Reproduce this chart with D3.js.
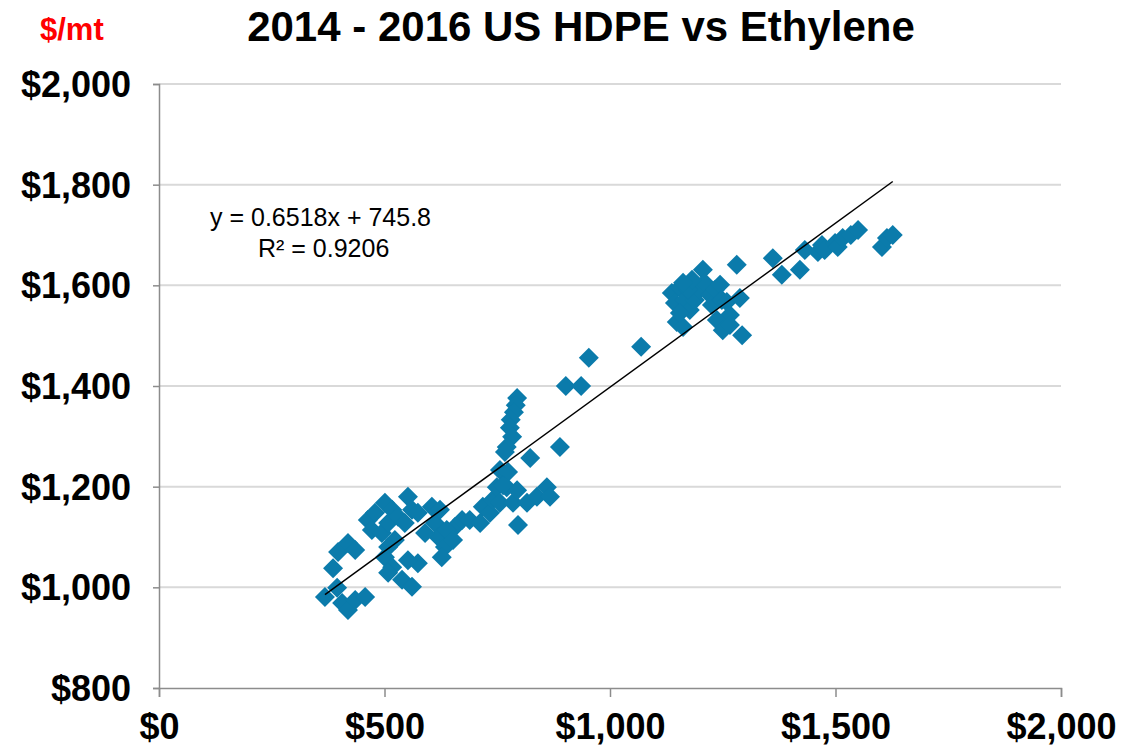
<!DOCTYPE html>
<html>
<head>
<meta charset="utf-8">
<script src="https://cdn.jsdelivr.net/npm/d3@7"></script>
<style>
  body { margin: 0; background: #fff; }
  svg { display: block; font-family: "Liberation Sans", Arial, sans-serif; }
</style>
</head>
<body>
<svg id="chart" width="1122" height="751"></svg>
<script>
// Ethylene price ($/mt) on x, HDPE price ($/mt) on y
const ethylene = [
  368, 395, 406, 419, 435, 457, 386, 397, 419, 435, 463, 479, 501, 517, 472, 494,
  508, 530, 552, 561, 574, 545, 523, 508, 501, 517, 508, 539, 561, 574, 552, 605,
  612, 619, 634, 627, 656, 672, 590,
  623, 638, 652, 689, 712, 718, 734, 740, 749, 756, 771, 785, 794, 796, 816, 838,
  860, 867, 823, 889, 902, 936, 953, 1069,
  794, 791, 787, 780, 778, 783, 771, 767, 756, 774, 763,
  1137, 1144, 1155, 1166, 1148, 1162, 1177, 1188, 1199, 1206, 1210, 1222, 1226, 1233,
  1244, 1248, 1259, 1266, 1237, 1250, 1281, 1288, 1293, 1266, 1173, 1182, 1155, 1162,
  1361, 1381, 1421, 1432, 1461, 1470, 1476, 1499, 1505, 1516, 1534, 1550, 1603, 1614, 1627
];
const hdpe = [
  981, 999, 969, 955, 975, 981, 1038, 1070, 1088, 1074, 1134, 1148, 1168, 1154, 1114, 1108,
  1128, 1140, 1180, 1154, 1148, 1128, 1094, 1080, 1060, 1040, 1029, 1015, 1001, 1048, 1054, 1160,
  1128, 1100, 1080, 1060, 1120, 1134, 1108,
  1154, 1114, 1094, 1134, 1128, 1160, 1148, 1174, 1199, 1168, 1199, 1168, 1193, 1124, 1168, 1180,
  1199, 1180, 1257, 1279, 1400, 1400, 1456, 1478,
  1376, 1362, 1348, 1333, 1317, 1299, 1279, 1269, 1233, 1229, 1203,
  1585, 1565, 1595, 1571, 1527, 1517, 1551, 1571, 1591, 1631, 1605, 1581, 1561, 1591,
  1601, 1571, 1567, 1541, 1531, 1511, 1641, 1575, 1501, 1521, 1591, 1611, 1545, 1605,
  1654, 1621, 1631, 1670, 1666, 1680, 1670, 1684, 1676, 1694, 1700, 1710, 1676, 1694, 1700
];
const xTicks = [0, 500, 1000, 1500, 2000];
const yTicks = [800, 1000, 1200, 1400, 1600, 1800, 2000];
const slope = 0.6518, intercept = 745.8, rSquared = 0.9206;

const points = ethylene.map((x, i) => ({x: x, y: hdpe[i]}));

const svg = d3.select('#chart');
const x = d3.scaleLinear().domain([0, 2000]).range([159, 1061]);
const y = d3.scaleLinear().domain([800, 2000]).range([688, 84]);
const money = d3.format('$,');

// gridlines
svg.append('g')
  .selectAll('line')
  .data(yTicks.slice(1))
  .join('line')
  .attr('x1', x(0)).attr('x2', x(2000))
  .attr('y1', d => y(d)).attr('y2', d => y(d))
  .attr('stroke', '#d9d9d9')
  .attr('stroke-width', 2);

// axes
const yAxis = svg.append('g')
  .attr('transform', 'translate(' + x(0) + ',0)')
  .call(d3.axisLeft(y).tickValues(yTicks).tickSize(6).tickFormat(money));
const xAxis = svg.append('g')
  .attr('transform', 'translate(0,' + y(800) + ')')
  .call(d3.axisBottom(x).tickValues(xTicks).tickSize(9).tickFormat(money));

[xAxis, yAxis].forEach(function(a) {
  a.select('.domain').attr('stroke', '#8c8c8c').attr('stroke-width', 1.5);
  a.selectAll('.tick line').attr('stroke', '#8c8c8c').attr('stroke-width', 1.5);
  a.selectAll('.tick text')
    .style('font-family', '"Liberation Sans", Arial, sans-serif')
    .style('font-weight', 'bold')
    .style('font-size', '36px')
    .attr('fill', '#000');
});
yAxis.selectAll('.tick text').attr('x', -28).attr('dy', '0.35em');
xAxis.selectAll('.tick text').attr('y', 25).attr('dy', '0.71em');

// markers
svg.append('g')
  .selectAll('path')
  .data(points)
  .join('path')
  .attr('transform', d => 'translate(' + x(d.x) + ',' + y(d.y) + ')')
  .attr('d', 'M0,-10L10,0L0,10L-10,0Z')
  .attr('fill', '#0b7bab');

// linear trendline
const xMin = d3.min(ethylene), xMax = d3.max(ethylene);
svg.append('line')
  .attr('x1', x(xMin)).attr('y1', y(slope * xMin + intercept))
  .attr('x2', x(xMax)).attr('y2', y(slope * xMax + intercept))
  .attr('stroke', '#000')
  .attr('stroke-width', 1.5);

// equation label
const eq = svg.append('text')
  .attr('font-size', 25)
  .attr('fill', '#000');
eq.append('tspan').attr('x', 210).attr('y', 226)
  .text('y = ' + slope + 'x + ' + intercept);
eq.append('tspan').attr('x', 258).attr('y', 257)
  .text('R² = ' + rSquared);

// title and unit
svg.append('text')
  .attr('x', 581).attr('y', 41)
  .attr('text-anchor', 'middle')
  .attr('font-size', 42)
  .attr('font-weight', 'bold')
  .text('2014 - 2016 US HDPE vs Ethylene');
svg.append('text')
  .attr('x', 40).attr('y', 40)
  .attr('font-size', 31)
  .attr('font-weight', 'bold')
  .attr('fill', '#ff0000')
  .text('$/mt');
</script>
</body>
</html>
